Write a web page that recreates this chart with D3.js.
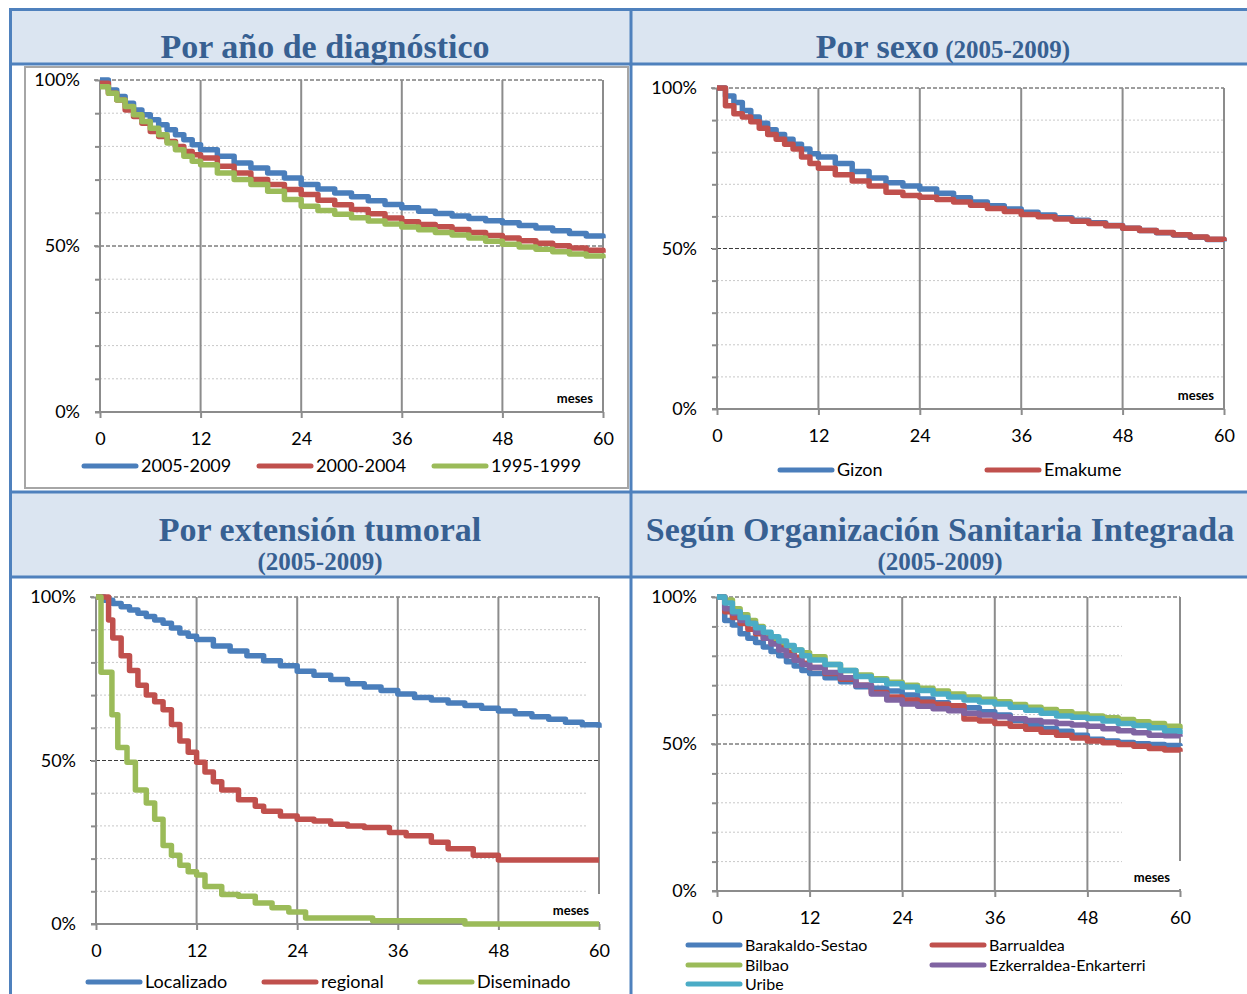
<!DOCTYPE html>
<html>
<head>
<meta charset="utf-8">
<script src="https://cdn.jsdelivr.net/npm/d3@7"></script>
<style>
  body { margin: 0; background: #fff; }
  svg { display: block; }
  .tick text { font-family: Lato, "Open Sans", sans-serif; font-size: 18px; fill: #000; }
  .domain { display: none; }
</style>
</head>
<body>
<svg id="chart" width="1247" height="994"></svg>
<script>
// ---- data (survival %, months) ----
var xTicks = [0, 12, 24, 36, 48, 60]
var yLabels = [0, 50, 100]

// months read monthly for the first year, then every 2 months
var months = [0,1,2,3,4,5,6,7,8,9,10,11,12,14,16,18,20,22,24,26,28,30,32,34,36,38,40,42,44,46,48,50,52,54,56,58,60]

// Por año de diagnóstico
var ano2005 = [100,97,95,93,91,89.5,88,86.5,85,83.5,82,80.5,79,77,75,73.5,72,70.5,68.5,67.2,66,64.8,63.6,62.5,61.5,60.5,59.8,59,58.3,57.6,57,56.2,55.4,54.6,53.8,53,52.3]
var ano2000 = [99,96,94,91,89,87,84.5,83,81.5,80,78.5,77.5,76.5,74,72,70,68.5,67,65.5,63.8,62.4,61,59.7,58.4,57.3,56.5,55.8,55,54.1,53.2,52.4,51.6,50.8,50.1,49.4,48.7,48]
var ano1995 = [98,96,94,92,89.5,87.5,85.5,83.5,81,79,77,75.5,74.5,72,70,68.5,66.5,64,62,60.7,59.6,58.5,57.5,56.6,55.7,54.9,54.1,53.3,52.4,51.4,50.5,49.7,49,48.3,47.6,47,46.3]
var anoNames = ["2005-2009", "2000-2004", "1995-1999"]

// Por sexo
var gizon = [100,97.5,95.5,93,91,89,87,85.5,84,82.5,81,79.5,78.5,76.5,74,72,70.5,69.5,68.5,67.2,65.8,64.5,63.3,62.3,61.3,60.4,59.6,58.8,58,57.2,56.3,55.6,54.9,54.2,53.5,52.8,52.2]
var emakume = [100,94.5,92,91,89.5,87.5,85.5,84,82.5,81,78.5,76.5,75,73,71,69.5,67.5,66.5,66,65.3,64.5,63.5,62.5,61.5,60.6,59.9,59.2,58.5,57.8,57.1,56.3,55.6,55,54.3,53.6,52.9,52.3]
var sexoNames = ["Gizon", "Emakume"]

// Por extensión tumoral
var localizado = [100,99,98,97,96,95,94,93,92,90.5,89,88,87,85,83.5,82,80.5,79,77.3,76.1,74.8,73.5,72.5,71.4,70.3,69.3,68.5,67.6,66.8,66,65.1,64.3,63.4,62.6,61.7,60.9,60]
var monthsReg = [0,1.5,2,3,4,5,6,7,8,9,10,11,12,13,14,15,17,19,20,22,24,26,28,30,32,35,37,40,42,45,48,60]
var regional = [100,93,87.5,82,77.5,73,70,68,65.5,61,56,52.5,49.5,46.5,43.5,41,38,36,34.5,33,32,31.5,30.5,30,29.5,28,27,25,23,21,19.6,19.6]
var monthsDis = [0,0.6,1.9,2.6,3.7,4.7,6,7,8,9,10,11,12,13,15,17,19,21,23,25,33,44,60]
var diseminado = [100,77,64,54,49.5,41,37,32,24,21,18,16,15,11.5,9,8.5,6.4,5,3.7,1.8,1,0,0]
var extNames = ["Localizado", "regional", "Diseminado"]

// Según OSI
var barakaldo = [100,92,90.5,87.5,86,84.5,83,81.5,80,78,76.5,75,74,72.5,71.2,69.5,69,68,66.7,65.3,64,63,62.3,61,59.9,58,56.5,55.3,54.3,53,51.6,51,50.5,50.1,49.8,49.5,49.3]
var barrualdea = [100,95,93,91,89,87.5,86,84.5,83,81,79.5,77.5,76,74,72,70,67.5,66,65,64.2,63.5,63,58.5,57.8,57,56,55,54,53,52,51,50.4,49.8,49.2,48.5,48,47.4]
var bilbao = [100,99,96,94,92,90,87.5,86,84.5,83,82,81,79.7,77,75,73.5,72.2,71,70,69,68,67,66,65.2,64.4,63.4,62.5,61.7,61,60.2,59.5,58.9,58.3,57.6,57,56,55.1]
var ezkerraldea = [100,96,94.5,92,91,88,86,84,82,80,78.5,77,76,74.3,72.5,70,67,65,63.6,62.8,62,61.3,60.5,59.9,59.3,58.6,58,57.5,57,56.5,56,55.2,54.5,53.8,53,52.8,52.5]
var uribe = [100,98,95,93,91,89.5,88,86.5,85,83.5,82,80,78.6,77,75,73,71.7,70.5,69.4,68.2,67,66,65,64.3,63.6,62.5,61.5,60.5,59.5,59.1,58.7,57.8,57,56.3,55.5,54.5,53.4]
var osiNames = ["Barakaldo-Sestao", "Barrualdea", "Bilbao", "Ezkerraldea-Enkarterri", "Uribe"]

var colors = {blue: "#4a7ebb", red: "#c0504d", green: "#9bbb59", purple: "#8064a2", cyan: "#4bacc6"}

function pairs(ms, vs) {
  return ms.map(function(m, i) { return [m, vs[i]] })
}

var svg = d3.select("#chart")

// ---- frame / headers ----
var frameBlue = "#4f81bd"
svg.append("rect").attr("x", 10).attr("y", 9).attr("width", 1237).attr("height", 55).attr("fill", "#dbe5f1")
svg.append("rect").attr("x", 10).attr("y", 492).attr("width", 1237).attr("height", 85).attr("fill", "#dbe5f1")
// gray box of first chart
svg.append("rect").attr("x", 25).attr("y", 67).attr("width", 603).attr("height", 421)
  .attr("fill", "none").attr("stroke", "#a6a6a6").attr("stroke-width", 2)

;[9.5, 64, 492, 577].forEach(function(y) {
  svg.append("line").attr("x1", 9).attr("x2", 1247).attr("y1", y).attr("y2", y)
    .attr("stroke", frameBlue).attr("stroke-width", 3)
})
;[10.5, 631].forEach(function(x) {
  svg.append("line").attr("x1", x).attr("x2", x).attr("y1", 8).attr("y2", 994)
    .attr("stroke", frameBlue).attr("stroke-width", 3)
})

var titleColor = "#376092"
var titleFont = "'Liberation Serif', 'DejaVu Serif', serif"

function title(x, y, main, sub, subInline) {
  var t = svg.append("text").attr("x", x).attr("y", y).attr("text-anchor", "middle")
    .attr("font-family", titleFont).attr("font-weight", "bold").attr("fill", titleColor)
  t.append("tspan").attr("font-size", 34).text(main)
  if (sub && subInline) {
    t.append("tspan").attr("font-size", 25).text(" " + sub)
  } else if (sub) {
    svg.append("text").attr("x", x).attr("y", y + 29).attr("text-anchor", "middle")
      .attr("font-family", titleFont).attr("font-weight", "bold").attr("fill", titleColor)
      .attr("font-size", 25).text(sub)
  }
}
title(325, 58, "Por año de diagnóstico")
title(943, 58, "Por sexo", "(2005-2009)", true)
title(320, 541, "Por extensión tumoral", "(2005-2009)")
title(940, 541, "Según Organización Sanitaria Integrada", "(2005-2009)")

// ---- panels ----
function drawPanel(cfg) {
  var g = svg.append("g")
  var x = d3.scaleLinear().domain([0, 60]).range([cfg.x0, cfg.x1])
  var y = d3.scaleLinear().domain([0, 100]).range([cfg.yb, cfg.yt])

  // light dotted gridlines every 10%
  g.selectAll("line.minor").data(d3.range(10, 100, 10).filter(function(v) { return v !== 50 }))
    .enter().append("line")
    .attr("x1", x(0)).attr("x2", cfg.dotEnd ? cfg.dotEnd : x(60))
    .attr("y1", function(d) { return y(d) }).attr("y2", function(d) { return y(d) })
    .attr("stroke", "#c8c8c8").attr("stroke-width", 1).attr("stroke-dasharray", "2,2")
  // dashed 50 / 100
  g.selectAll("line.major").data([50, 100]).enter().append("line")
    .attr("x1", x(0) - 6).attr("x2", x(60))
    .attr("y1", function(d) { return y(d) }).attr("y2", function(d) { return y(d) })
    .attr("stroke", "#3c3c3c").attr("stroke-width", 1).attr("stroke-dasharray", "4,2")
  // vertical gridlines
  g.selectAll("line.vgrid").data(xTicks.slice(1)).enter().append("line")
    .attr("x1", function(d) { return x(d) }).attr("x2", function(d) { return x(d) })
    .attr("y1", y(100)).attr("y2", y(0))
    .attr("stroke", "#8c8c8c").attr("stroke-width", 2)

  // axes
  var xAxis = d3.axisBottom(x).tickValues(xTicks).tickSize(6).tickPadding(14)
  g.append("g").attr("transform", "translate(0," + y(0) + ")").call(xAxis)
  var yAxis = d3.axisLeft(y).tickValues(d3.range(0, 101, 10)).tickSize(5).tickPadding(15)
    .tickFormat(function(d) { return yLabels.indexOf(d) > -1 ? d + "%" : "" })
  g.append("g").attr("transform", "translate(" + x(0) + ",0)").call(yAxis)
  g.selectAll(".tick line").attr("stroke", "#8c8c8c").attr("stroke-width", 2)
  g.append("line").attr("x1", x(0)).attr("x2", x(0)).attr("y1", y(100)).attr("y2", y(0))
    .attr("stroke", "#8c8c8c").attr("stroke-width", 2)
  g.append("line").attr("x1", x(0) - 5).attr("x2", x(60)).attr("y1", y(0)).attr("y2", y(0))
    .attr("stroke", "#8c8c8c").attr("stroke-width", 2)

  // "meses" label with white box
  g.append("rect").attr("x", x(60) - 58).attr("y", y(0) - 30)
    .attr("width", cfg.boxW).attr("height", 28).attr("fill", "#fff")
  g.append("text").attr("x", x(60) - 10).attr("y", y(0) - 9).attr("text-anchor", "end")
    .attr("font-family", "Lato, sans-serif").attr("font-weight", "bold").attr("font-size", 13)
    .text("meses")

  // survival curves
  var line = d3.line().x(function(d) { return x(d[0]) }).y(function(d) { return y(d[1]) })
    .curve(d3.curveStepAfter)
  cfg.series.forEach(function(s) {
    g.append("path").datum(s.pts).attr("d", line)
      .attr("fill", "none").attr("stroke", s.color).attr("stroke-width", 5.5)
      .attr("stroke-linejoin", "round")
  })

  // legend
  cfg.legend.forEach(function(l) {
    g.append("line").attr("x1", l.lx).attr("x2", l.lx + 52).attr("y1", l.y).attr("y2", l.y)
      .attr("stroke", l.color).attr("stroke-width", 5).attr("stroke-linecap", "round")
    g.append("text").attr("x", l.lx + 57).attr("y", l.y).attr("dy", "0.35em")
      .attr("font-family", "Lato, sans-serif").attr("font-size", cfg.legendSize).text(l.name)
  })
}

drawPanel({
  x0: 100, x1: 603, yt: 80, yb: 412, boxW: 55, legendSize: 18,
  series: [
    {pts: pairs(months, ano2005), color: colors.blue},
    {pts: pairs(months, ano2000), color: colors.red},
    {pts: pairs(months, ano1995), color: colors.green}
  ],
  legend: [
    {lx: 84, y: 466, color: colors.blue, name: anoNames[0]},
    {lx: 259, y: 466, color: colors.red, name: anoNames[1]},
    {lx: 434, y: 466, color: colors.green, name: anoNames[2]}
  ]
})

drawPanel({
  x0: 717, x1: 1224, yt: 88, yb: 409, boxW: 55, legendSize: 18,
  series: [
    {pts: pairs(months, gizon), color: colors.blue},
    {pts: pairs(months, emakume), color: colors.red}
  ],
  legend: [
    {lx: 780, y: 470, color: colors.blue, name: sexoNames[0]},
    {lx: 987, y: 470, color: colors.red, name: sexoNames[1]}
  ]
})

drawPanel({
  x0: 96, x1: 599, yt: 597, yb: 924, boxW: 62, dotEnd: 588, legendSize: 18,
  series: [
    {pts: pairs(months, localizado), color: colors.blue},
    {pts: pairs(monthsReg, regional), color: colors.red},
    {pts: pairs(monthsDis, diseminado), color: colors.green}
  ],
  legend: [
    {lx: 88, y: 982, color: colors.blue, name: extNames[0]},
    {lx: 264, y: 982, color: colors.red, name: extNames[1]},
    {lx: 420, y: 982, color: colors.green, name: extNames[2]}
  ]
})

drawPanel({
  x0: 717, x1: 1180, yt: 597, yb: 891, boxW: 66, dotEnd: 1122, legendSize: 16,
  series: [
    {pts: pairs(months, barakaldo), color: colors.blue},
    {pts: pairs(months, barrualdea), color: colors.red},
    {pts: pairs(months, bilbao), color: colors.green},
    {pts: pairs(months, ezkerraldea), color: colors.purple},
    {pts: pairs(months, uribe), color: colors.cyan}
  ],
  legend: [
    {lx: 688, y: 945, color: colors.blue, name: osiNames[0]},
    {lx: 932, y: 945, color: colors.red, name: osiNames[1]},
    {lx: 688, y: 965, color: colors.green, name: osiNames[2]},
    {lx: 932, y: 965, color: colors.purple, name: osiNames[3]},
    {lx: 688, y: 984, color: colors.cyan, name: osiNames[4]}
  ]
})
</script>
</body>
</html>
